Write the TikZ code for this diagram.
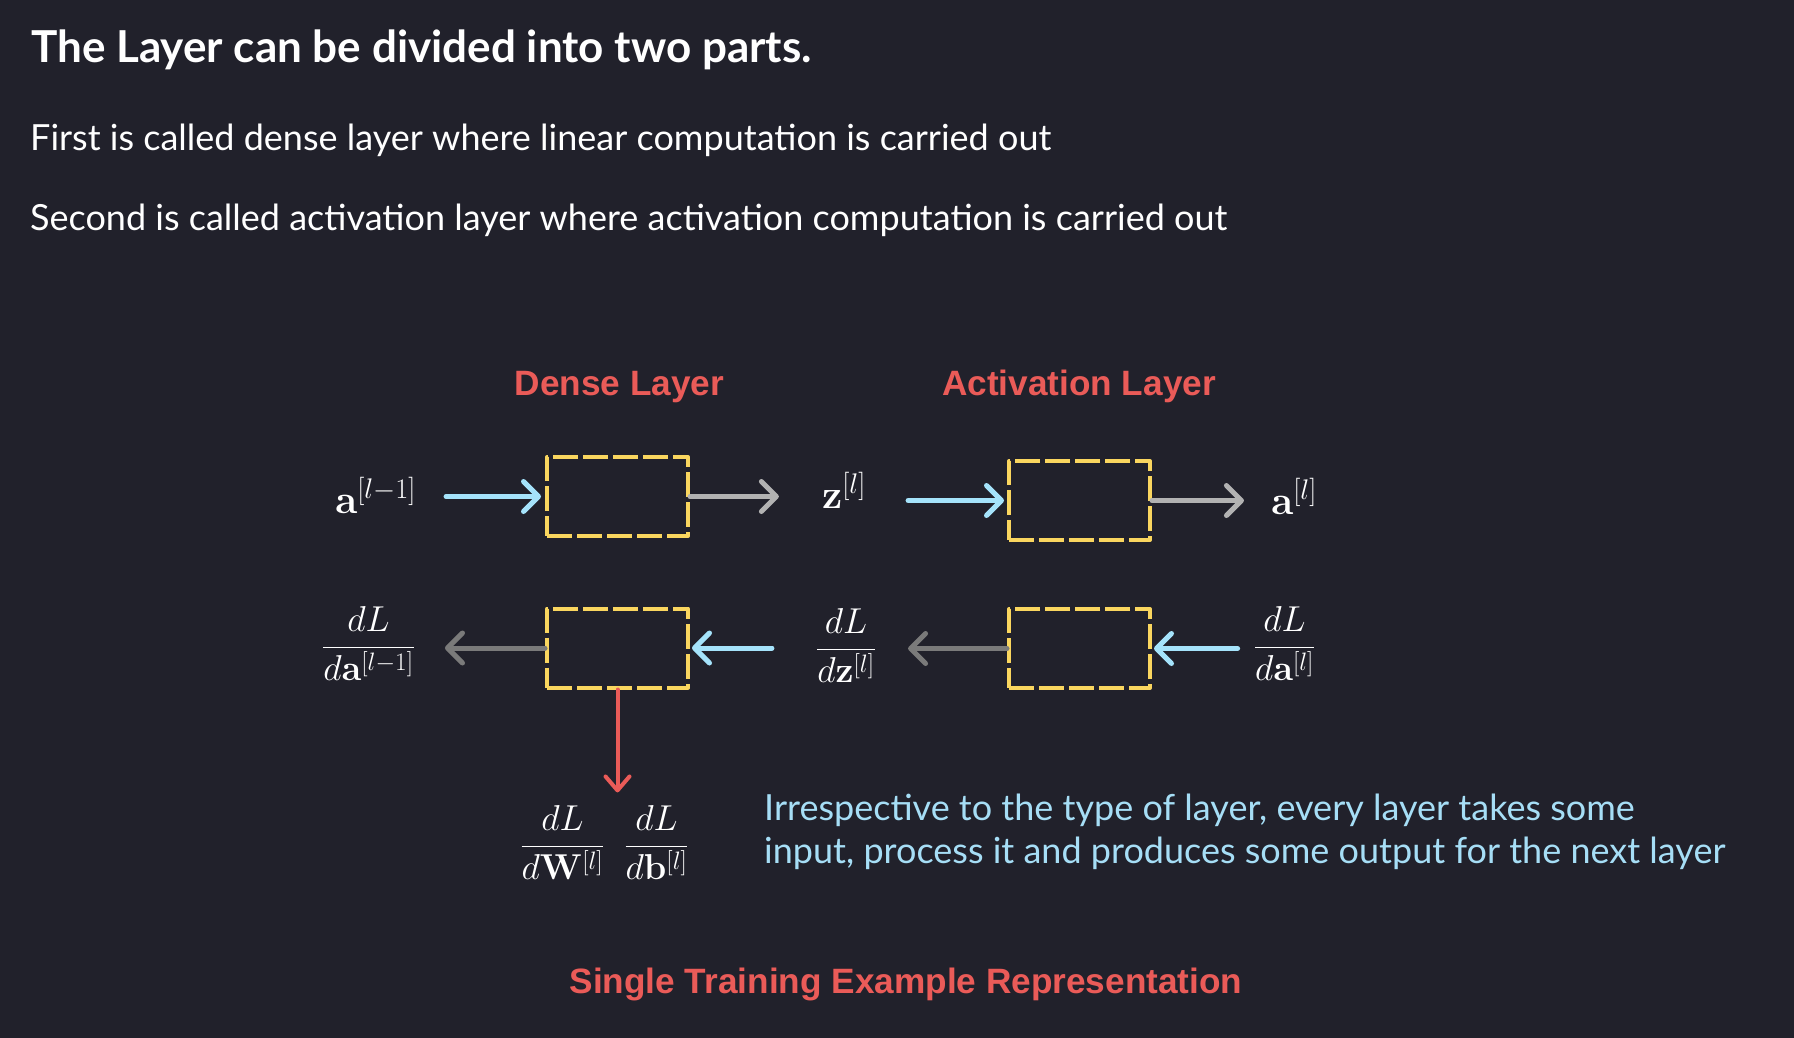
\RequirePackage{fix-cm}
\documentclass[tikz,border=0pt]{standalone}
\usepackage{amsmath}
\usepackage[no-math]{fontspec}
\setmainfont{Lato}
\newfontfamily\headfont{Liberation Sans}
\usetikzlibrary{arrows.meta}
\definecolor{bg}{HTML}{21212B}
\definecolor{boxyellow}{HTML}{FAD65F}
\definecolor{fwdcyan}{HTML}{A5E3FB}
\definecolor{outgray}{HTML}{B2B2B2}
\definecolor{backgray}{HTML}{7A7A7A}
\definecolor{gradred}{HTML}{EA5B58}
\definecolor{notecyan}{HTML}{A6DEF6}
\begin{document}
\begin{tikzpicture}[x=1pt,y=-1pt,line join=round,line cap=round,
    >={Straight Barb[length=15pt,width=30pt,round]}]
    \tikzset{layer/.style={draw=boxyellow,line width=4pt,line cap=butt,dash pattern=on 25pt off 5pt,
            minimum width=141pt,minimum height=79pt,inner sep=0pt,outer sep=2pt},
        vec/.style={text=white,inner sep=0pt,font=\fontsize{36}{40}\selectfont},
        bigvec/.style={vec,font=\fontsize{40.5}{44}\selectfont},
        txt/.style={text=white,inner sep=0pt,anchor=base west,font=\fontsize{36}{43}\selectfont},
        head/.style={text=gradred,inner sep=0pt,anchor=base,font=\headfont\bfseries\fontsize{35.2}{40}\selectfont},
        fwd/.style={->,draw=fwdcyan,line width=5pt},
        fwdout/.style={->,draw=outgray,line width=5pt},
        back/.style={->,draw=backgray,line width=5pt},
        grad/.style={-{Straight Barb[length=14pt,width=24pt,round]},draw=gradred,line width=4pt}}
    \useasboundingbox (0,0) rectangle (1794,1038);
    \fill[bg] (0,0) rectangle (1794,1038);
    % texts
    \node[txt,font=\bfseries\fontsize{44}{50}\selectfont] (title) at (31,63) {The Layer can be divided into two parts.};
    \node[txt] (first) at (30,151) {First is called dense layer where linear computation is carried out};
    \node[txt] (second) at (30,230) {Second is called activation layer where activation computation is carried out};
    \node[head] (densehead) at (619.5,395) {Dense Layer};
    \node[head] (acthead) at (1079,395) {Activation Layer};
    % layers
    \node[layer] (denseF) at (617.5,496.5) {};
    \node[layer] (actF) at (1079.5,500.5) {};
    \node[layer] (denseB) at (617.5,648) {};
    \node[layer] (actB) at (1079.5,648.5) {};
    % forward
    \node[bigvec,anchor=base] (aprev) at (375.5,513) {$\mathbf{a}^{[l-1]}$};
    \node[bigvec,anchor=base] (zl) at (844,508) {$\mathbf{z}^{[l]}$};
    \node[bigvec,anchor=base] (al) at (1294,514) {$\mathbf{a}^{[l]}$};
    \draw[fwd,shorten <=30pt,shorten >=4pt] (denseF.west -| aprev.east) -- (denseF.west);
    \draw[fwdout,shorten >=43pt] (denseF.east) -- (zl.west |- denseF.east);
    \draw[fwd,shorten <=42pt,shorten >=3pt] (actF.west -| zl.east) -- (actF.west);
    \draw[fwdout,shorten >=27pt] (actF.east) -- (al.west |- actF.east);
    % backward
    \node[vec,anchor=base] (daprev) at (368.5,656) {$\dfrac{dL}{d\mathbf{a}^{[l-1]}}$};
    \node[vec,anchor=base] (dzl) at (846,658) {$\dfrac{dL}{d\mathbf{z}^{[l]}}$};
    \node[vec,anchor=base] (dal) at (1284.5,656) {$\dfrac{dL}{d\mathbf{a}^{[l]}}$};
    \node[vec,anchor=base] (grads) at (604.5,855) {$\dfrac{dL}{d\mathbf{W}^{[l]}}\hspace{20pt}\dfrac{dL}{d\mathbf{b}^{[l]}}$};
    \draw[back,shorten >=30pt] (denseB.west) -- (daprev.east |- denseB.west);
    \draw[fwd,shorten <=44pt,shorten >=2pt] (dzl.west |- denseB.east) -- (denseB.east);
    \draw[back,shorten >=32pt] (actB.west) -- (dzl.east |- actB.west);
    \draw[fwd,shorten <=16pt,shorten >=2pt] (dal.west |- actB.east) -- (actB.east);
    \draw[grad,shorten >=13pt] (denseB.south) -- (denseB.south |- grads.north);
    % notes
    \node[txt,text=notecyan,align=left] (note) at (764,863)
        {Irrespective to the type of layer, every layer takes some\\input, process it and produces some output for the next layer};
    \node[head] (caption) at (906,993) {Single Training Example Representation};
\end{tikzpicture}
\end{document}
